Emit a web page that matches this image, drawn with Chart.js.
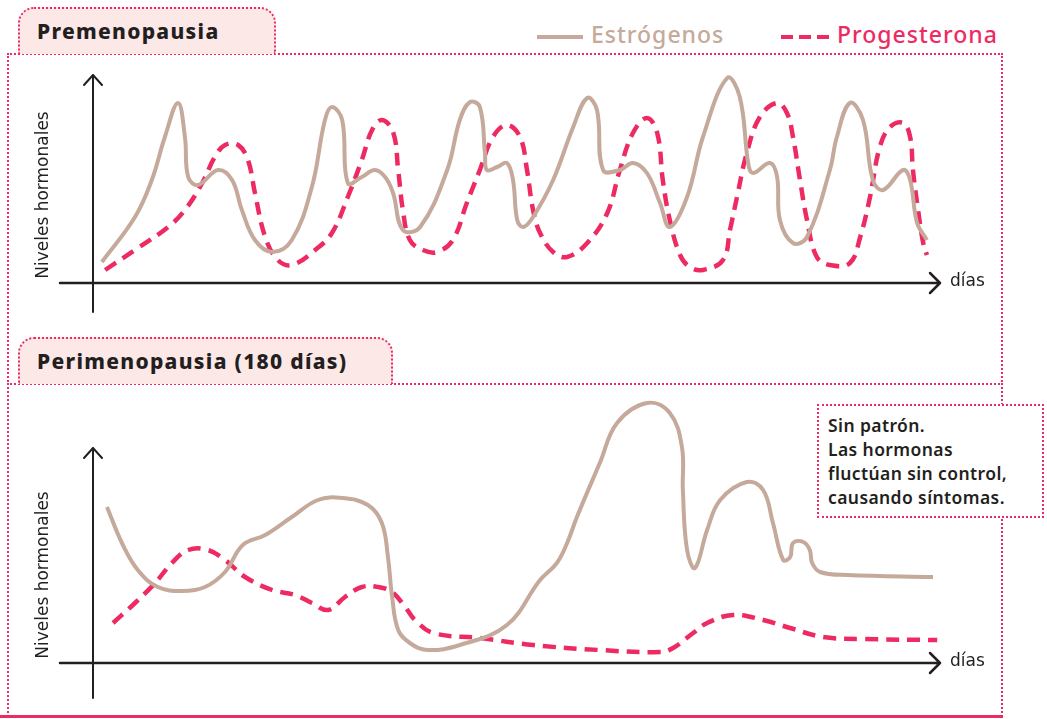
<!DOCTYPE html>
<html lang="es">
<head>
<meta charset="utf-8">
<title>Premenopausia / Perimenopausia</title>
<script src="https://cdn.jsdelivr.net/npm/chart.js@4"></script>
<style>
  html, body { margin: 0; padding: 0; background: #fff; }
  body { width: 1047px; height: 719px; position: relative; overflow: hidden; font-family: "Noto Sans", sans-serif; }
  .abs { position: absolute; }
  .tab { background: #fde8e8; border: 2px dotted #ee2a62; border-bottom: none; border-radius: 16px 16px 0 0; box-sizing: border-box; font-weight: 800; font-size: 21px; letter-spacing: 1.3px; color: #231f20; padding-left: 17px; line-height: 45px; }
  .panel { border: 2px dotted #ee2a62; border-bottom: none; box-sizing: border-box; }
  .legend { font-size: 23px; font-weight: 500; letter-spacing: 1px; line-height: 30px; }
  .note { background: #fff; border: 2px dotted #ee2a62; box-sizing: border-box; font-size: 17.5px; font-weight: 600; letter-spacing: 0.4px; color: #231f20; line-height: 24px; padding: 7px 0 0 9px; }
  canvas { position: absolute; left: 0; }
</style>
</head>
<body>
<div class="abs panel" style="left:7px; top:53px; width:996px; height:332px;"></div>
<div class="abs panel" style="left:7px; top:383px; width:996px; height:334px;"></div>
<div class="abs" style="left:0; top:715px; width:1003px; height:3px; background:#ee2a62;"></div>
<div class="abs tab" style="left:18px; top:7px; width:258px; height:47px;">Premenopausia</div>
<div class="abs tab" style="left:18px; top:337px; width:375px; height:47px;">Perimenopausia (180 días)</div>

<div class="abs legend" style="left:537px; top:19px; color:#c5a99a;">
  <span style="display:inline-block; width:46px; height:4px; background:#c5a99a; vertical-align:middle; margin-right:8px;"></span>Estrógenos
</div>
<div class="abs legend" style="left:781px; top:19px; color:#ee2a62;">
  <span style="display:inline-block; width:48px; height:4px; background:repeating-linear-gradient(90deg,#ee2a62 0 12px,transparent 12px 18px); vertical-align:middle; margin-right:8px;"></span>Progesterona
</div>

<canvas id="premeno" width="1000" height="270" style="top:60px;"></canvas>
<canvas id="perimeno" width="1000" height="320" style="top:390px;"></canvas>

<div class="abs note" style="left:817px; top:404px; width:227px; height:114px;">
  Sin patrón.<br>Las hormonas<br>fluctúan sin control,<br>causando síntomas.
</div>

<script>
// ---- Premenopausia: estrógenos ----
const preEstroDias = [1.9, 9.0, 12.6, 15.4, 18.2, 19.7, 20.4, 22.5, 26.8, 29.8, 31.9, 34.7, 38.4, 42.6, 46.9, 49.7, 51.2, 53.4, 54.6, 57.6, 60.4, 62.6, 64.3, 66.4, 70.1, 75.9, 78.6, 80.8, 82.9, 84.0, 84.4, 86.6, 88.7, 90.0, 90.9, 92.2, 94.3, 98.6, 102.9, 105.9, 108.0, 109.3, 112.9, 115.7, 118.7, 121.5, 123.6, 127.3, 130.7, 135.9, 138.6, 140.4, 141.4, 145.1, 146.6, 147.2, 150.0, 153.0, 157.9, 159.4, 162.2, 165.0, 167.1, 169.3, 173.6, 175.1, 176.6, 178.7];
const preEstroNivel = [10.5, 33, 51.5, 73, 90, 73, 53, 49, 56.5, 51.5, 36.5, 21.5, 15.5, 21.5, 48, 81.5, 88, 81.5, 50, 53, 56.5, 53, 45, 26.5, 28, 56.5, 81.5, 90.5, 88, 65, 56.5, 58, 60, 51.5, 31.5, 28, 33, 51.5, 78, 92.5, 86.5, 56.5, 56.5, 60, 55, 40, 28, 43, 73, 102.5, 93, 60, 55, 60, 53, 31.5, 20, 23, 56.5, 73, 90, 81.5, 51.5, 46.5, 56.5, 51.5, 30, 21.5];

// ---- Premenopausia: progesterona ----
const preProgDias = [2.6, 9.0, 16.1, 19.7, 23.4, 26.1, 28.3, 31.1, 33.2, 34.7, 36.9, 39.6, 42.6, 47.6, 51.2, 54.6, 57.6, 59.8, 61.9, 64.3, 65.4, 66.4, 67.9, 70.7, 73.7, 77.1, 80.1, 82.9, 85.7, 88.7, 91.5, 93.0, 94.3, 95.8, 98.6, 101.6, 105.9, 110.2, 112.9, 115.7, 118.7, 120.9, 122.1, 123.6, 125.8, 127.9, 130.7, 135.0, 136.5, 138.0, 140.1, 142.9, 146.6, 148.7, 150.0, 151.5, 153.0, 155.1, 157.9, 162.2, 164.4, 166.5, 168.6, 170.8, 173.6, 175.1, 175.7, 176.8, 177.9, 178.7];
const preProgNivel = [6.5, 16.5, 28, 36.5, 50, 63, 69, 69, 61.5, 45, 23, 11.5, 9, 16.5, 25, 43, 61.5, 76.5, 81.5, 75.5, 56.5, 36.5, 21.5, 16.5, 15.5, 21.5, 40, 56.5, 73, 79, 73, 56.5, 36.5, 25, 15.5, 13, 20, 35, 56.5, 75, 82.5, 75, 51.5, 31.5, 14, 8, 6.5, 11.5, 26.5, 43, 65, 83, 90, 85, 73, 51.5, 31.5, 13, 9, 10, 23, 43, 68, 78, 80, 73, 56.5, 36.5, 20, 14];

// ---- Perimenopausia (180 días): estrógenos ----
const periEstroDias = [3.0, 6.2, 9.6, 13.9, 19.1, 24.0, 28.3, 32.1, 36.9, 42.6, 48.2, 53.4, 58.9, 61.9, 63.2, 64.1, 65.4, 67.9, 71.6, 78.6, 88.7, 95.8, 99.4, 101.6, 103.7, 108.6, 112.3, 118.7, 123.6, 126.2, 126.4, 127.3, 129.0, 131.6, 134.4, 140.1, 143.6, 145.7, 147.9, 149.4, 150.0, 152.2, 153.6, 154.1, 155.8, 161.6, 180];
const periEstroNivel = [78, 60, 46.5, 38, 36, 38, 45.5, 59, 64, 73, 81.5, 82.5, 79, 70, 53, 33, 16.5, 10, 6.5, 9, 19, 41.5, 50, 60, 73, 100, 120, 130, 125, 108, 86.5, 56.5, 47.5, 66.5, 81.5, 90.5, 86.5, 70, 51.5, 53, 60, 60.5, 56.5, 50, 45.5, 44, 43];

// ---- Perimenopausia (180 días): progesterona ----
const periProgDias = [4.3, 9.0, 13.3, 16.9, 20.4, 24.6, 28.3, 32.6, 38.4, 43.3, 46.9, 50.4, 54.0, 57.6, 61.1, 64.1, 66.9, 69.0, 72.9, 82.9, 94.3, 108.6, 121.5, 124.3, 128.6, 131.6, 137.1, 143.6, 149.4, 156.4, 165.0, 180.9];
const periProgNivel = [20, 30, 40, 50, 56.5, 56.5, 51.5, 43, 36.5, 34, 30, 26.5, 33, 38, 38, 35.5, 28, 21.5, 15, 12.5, 9, 6.5, 5.5, 7.5, 15, 20, 24, 21.5, 17.5, 13, 12, 11.5];

const ESTRO_COLOR = "#c5a99a";
const PROG_COLOR = "#ee2a62";

function toPoints(xs, ys) {
  return xs.map((x, i) => ({ x: x, y: ys[i] }));
}

// axes with arrowheads, "días" and y title
const arrowAxes = {
  id: "arrowAxes",
  afterDraw(chart, args, opts) {
    const ctx = chart.ctx;
    const x0 = chart.scales.x.getPixelForValue(0);
    const y0 = chart.scales.y.getPixelForValue(0);
    const xEnd = chart.scales.x.getPixelForValue(181.5);
    const yTop = chart.scales.y.getPixelForValue(opts.yTop);
    const yBottom = chart.scales.y.getPixelForValue(opts.yBottom);
    ctx.save();
    ctx.strokeStyle = "#231f20";
    ctx.lineCap = "round";
    ctx.lineJoin = "round";
    // x axis
    ctx.lineWidth = 2.5;
    ctx.beginPath();
    ctx.moveTo(x0 - 33, y0);
    ctx.lineTo(xEnd, y0);
    ctx.moveTo(xEnd - 10, y0 - 10);
    ctx.lineTo(xEnd, y0);
    ctx.lineTo(xEnd - 10, y0 + 10);
    ctx.stroke();
    // y axis
    ctx.lineWidth = 2;
    ctx.beginPath();
    ctx.moveTo(x0, yBottom);
    ctx.lineTo(x0, yTop);
    ctx.moveTo(x0 - 9, yTop + 10);
    ctx.lineTo(x0, yTop);
    ctx.lineTo(x0 + 9, yTop + 10);
    ctx.stroke();
    // labels
    ctx.fillStyle = "#231f20";
    ctx.font = '17px "DejaVu Sans"';
    ctx.textBaseline = "middle";
    ctx.textAlign = "left";
    ctx.fillText("días", xEnd + 10, y0 - 1);
    ctx.translate(x0 - 49, y0 - 88);
    ctx.rotate(-Math.PI / 2);
    ctx.textAlign = "center";
    ctx.fillText("Niveles hormonales", 0, 0);
    ctx.restore();
  }
};

function buildChart(id, estroX, estroY, progX, progY, padTop, yTop, yBottom) {
  const ctx = document.getElementById(id).getContext("2d");
  return new Chart(ctx, {
    type: "line",
    data: {
      datasets: [
        {
          label: "Estrógenos",
          data: toPoints(estroX, estroY),
          borderColor: ESTRO_COLOR,
          borderWidth: 4,
          tension: 0.4,
          pointRadius: 0,
          fill: false,
          clip: false,
        },
        {
          label: "Progesterona",
          data: toPoints(progX, progY),
          borderColor: PROG_COLOR,
          borderWidth: 4.5,
          borderDash: [13, 8],
          tension: 0.4,
          pointRadius: 0,
          fill: false,
          clip: false,
        },
      ],
    },
    options: {
      responsive: false,
      animation: false,
      layout: { padding: { left: 93, right: 67, top: padTop, bottom: 47 } },
      scales: {
        x: { type: "linear", min: 0, max: 180, display: false },
        y: { min: 0, max: 100, display: false },
      },
      plugins: {
        legend: { display: false },
        tooltip: { enabled: false },
        arrowAxes: { yTop: yTop, yBottom: yBottom },
      },
    },
    plugins: [arrowAxes],
  });
}

buildChart("premeno", preEstroDias, preEstroNivel, preProgDias, preProgNivel, 23, 104, -14.5);
buildChart("perimeno", periEstroDias, periEstroNivel, periProgDias, periProgNivel, 73, 107.5, -17.5);
</script>
</body>
</html>
